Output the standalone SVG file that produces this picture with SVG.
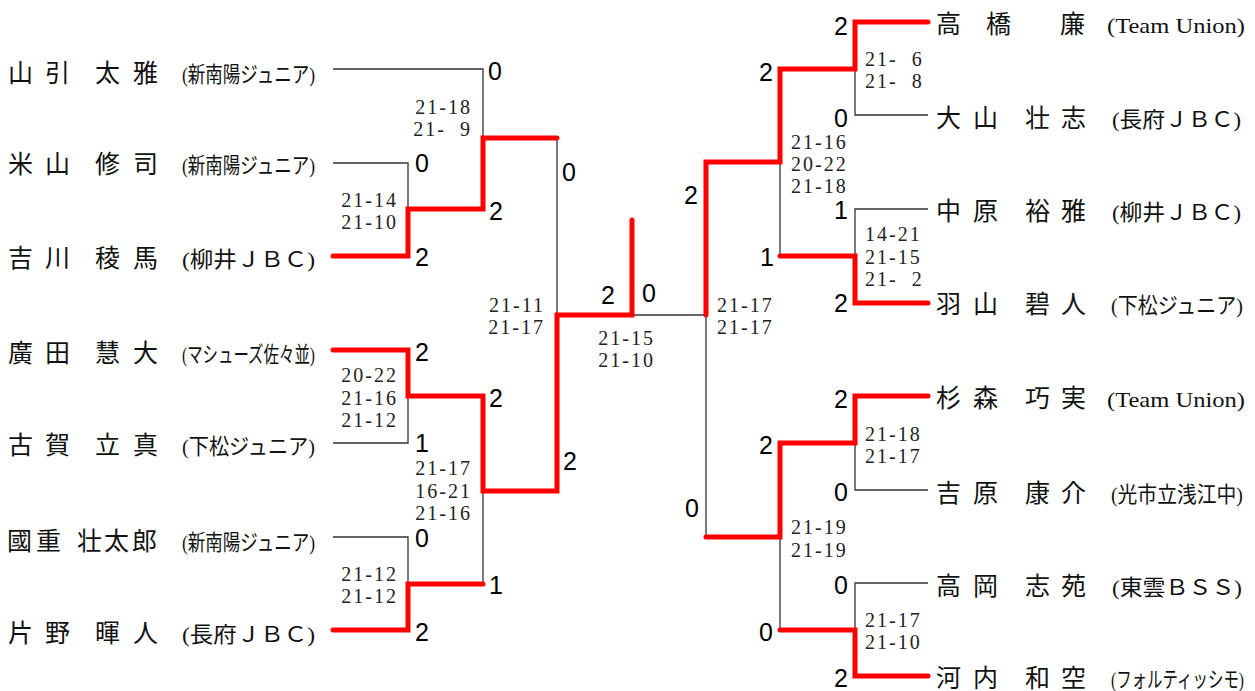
<svg xmlns="http://www.w3.org/2000/svg" width="1255" height="691" viewBox="0 0 1255 691">
<style>
.name{font-family:"Liberation Serif","Noto Sans CJK JP",serif;font-size:25px;fill:#111}
.team{font-family:"Liberation Serif","Noto Sans CJK JP",serif;font-size:22px;fill:#111}
.sc{font-family:"Liberation Sans",Arial,sans-serif;font-size:25px;fill:#000}
.gs{font-family:"Liberation Serif",serif;font-size:20px;fill:#222;letter-spacing:2px}
.thin{stroke:#333;stroke-width:1.3;fill:none}
.win{stroke:#ff0000;stroke-width:5;fill:none;stroke-linecap:round;stroke-linejoin:miter}
</style>
<rect width="1255" height="691" fill="#fff"/>
<g id="connectors">
  <path class="thin" d="M333,69 H483 V138"/>
  <path class="thin" d="M333,163 H408 V209"/>
  <path class="thin" d="M557,138 V315"/>
  <path class="thin" d="M333,443 H408 V396"/>
  <path class="thin" d="M333,537 H408 V584"/>
  <path class="thin" d="M483,491 V584"/>
  <path class="thin" d="M632,315 H706"/>
  <path class="thin" d="M928,115 H855 V69"/>
  <path class="thin" d="M928,209 H855 V256"/>
  <path class="thin" d="M780,162 V256"/>
  <path class="thin" d="M706,315 V537"/>
  <path class="thin" d="M928,490 H855 V443"/>
  <path class="thin" d="M928,583 H855 V630"/>
  <path class="thin" d="M780,537 V630"/>
  <path class="win" d="M333,256 H408 V209 H483 V138 H557"/>
  <path class="win" d="M333,350 H408 V396 H483 V491 H557 V315 H632 V220"/>
  <path class="win" d="M333,630 H408 V584 H483"/>
  <path class="win" d="M706,315 V162 H780 V69 H855 V22 H928"/>
  <path class="win" d="M928,303 H855 V256 H780"/>
  <path class="win" d="M706,537 H780 V443 H855 V396 H928"/>
  <path class="win" d="M928,676 H855 V630 H780"/>
</g>
<g id="p1"><text class="name" x="8 45 70 95 133" y="81.5">山引　太雅</text><text class="team" x="182" y="81.5" textLength="133" lengthAdjust="spacingAndGlyphs">(新南陽ジュニア)</text></g>
<g id="p2"><text class="name" x="8 45 70 95 133" y="172.5">米山　修司</text><text class="team" x="182" y="172.5" textLength="133" lengthAdjust="spacingAndGlyphs">(新南陽ジュニア)</text></g>
<g id="p3"><text class="name" x="8 45 70 95 133" y="266.5">吉川　稜馬</text><text class="team" x="182" y="266.5" textLength="133" lengthAdjust="spacingAndGlyphs">(柳井ＪＢＣ)</text></g>
<g id="p4"><text class="name" x="8 45 70 95 133" y="361.5">廣田　慧大</text><text class="team" x="182" y="361.5" textLength="133" lengthAdjust="spacingAndGlyphs">(マシューズ佐々並)</text></g>
<g id="p5"><text class="name" x="8 45 70 95 133" y="453.5">古賀　立真</text><text class="team" x="182" y="453.5" textLength="133" lengthAdjust="spacingAndGlyphs">(下松ジュニア)</text></g>
<g id="p6"><text class="name" x="7 36 60 77 104 132" y="549.5">國重　壮太郎</text><text class="team" x="182" y="549.5" textLength="133" lengthAdjust="spacingAndGlyphs">(新南陽ジュニア)</text></g>
<g id="p7"><text class="name" x="8 45 70 95 133" y="641.5">片野　暉人</text><text class="team" x="182" y="641.5" textLength="133" lengthAdjust="spacingAndGlyphs">(長府ＪＢＣ)</text></g>
<g id="p8"><text class="name" x="936 986 1010 1035 1060" y="32.5">高橋　　廉</text><text class="team" x="1107" y="32.5" textLength="138" lengthAdjust="spacingAndGlyphs">(Team Union)</text></g>
<g id="p9"><text class="name" x="936 973 1000 1025 1061" y="126.5">大山　壮志</text><text class="team" x="1112" y="126.5" textLength="129" lengthAdjust="spacingAndGlyphs">(長府ＪＢＣ)</text></g>
<g id="p10"><text class="name" x="936 973 1000 1025 1061" y="219.5">中原　裕雅</text><text class="team" x="1112" y="219.5" textLength="129" lengthAdjust="spacingAndGlyphs">(柳井ＪＢＣ)</text></g>
<g id="p11"><text class="name" x="936 973 1000 1025 1061" y="312.5">羽山　碧人</text><text class="team" x="1111" y="312.5" textLength="132" lengthAdjust="spacingAndGlyphs">(下松ジュニア)</text></g>
<g id="p12"><text class="name" x="936 973 1000 1025 1061" y="406.5">杉森　巧実</text><text class="team" x="1107" y="406.5" textLength="138" lengthAdjust="spacingAndGlyphs">(Team Union)</text></g>
<g id="p13"><text class="name" x="936 973 1000 1025 1061" y="501.5">吉原　康介</text><text class="team" transform="translate(1111,501.5) scale(0.9,1)" x="0" y="0">(光市立浅江中)</text></g>
<g id="p14"><text class="name" x="936 973 1000 1025 1061" y="594.5">高岡　志苑</text><text class="team" x="1112" y="594.5" textLength="130" lengthAdjust="spacingAndGlyphs">(東雲ＢＳＳ)</text></g>
<g id="p15"><text class="name" x="936 973 1000 1025 1061" y="686.5">河内　和空</text><text class="team" transform="translate(1111,686.5) scale(0.703,1)" x="0" y="0">(フォルティッシモ)</text></g>
<g id="m1"><text class="sc" x="415" y="172">0</text><text class="sc" x="415" y="266">2</text><text class="gs" text-anchor="end" xml:space="preserve"><tspan x="398" y="207">21-14</tspan><tspan x="398" y="229">21-10</tspan></text></g>
<g id="m2"><text class="sc" x="488" y="79.5">0</text><text class="sc" x="489" y="219.5">2</text><text class="gs" text-anchor="end" xml:space="preserve"><tspan x="472" y="113.5">21-18</tspan><tspan x="472" y="135.5">21-  9</tspan></text></g>
<g id="m3"><text class="sc" x="415" y="361">2</text><text class="sc" x="415" y="452">1</text><text class="gs" text-anchor="end" xml:space="preserve"><tspan x="398" y="382">20-22</tspan><tspan x="398" y="404.5">21-16</tspan><tspan x="398" y="427">21-12</tspan></text></g>
<g id="m4"><text class="sc" x="415" y="547">0</text><text class="sc" x="415" y="641">2</text><text class="gs" text-anchor="end" xml:space="preserve"><tspan x="398" y="581">21-12</tspan><tspan x="398" y="603">21-12</tspan></text></g>
<g id="m5"><text class="sc" x="489" y="407">2</text><text class="sc" x="489" y="594">1</text><text class="gs" text-anchor="end" xml:space="preserve"><tspan x="472" y="475">21-17</tspan><tspan x="472" y="497.5">16-21</tspan><tspan x="472" y="520">21-16</tspan></text></g>
<g id="m6"><text class="sc" x="562" y="181">0</text><text class="sc" x="563" y="470">2</text><text class="gs" text-anchor="end" xml:space="preserve"><tspan x="545" y="312">21-11</tspan><tspan x="545" y="334">21-17</tspan></text></g>
<g id="m7"><text class="sc" x="601" y="304">2</text><text class="sc" x="642" y="302">0</text><text class="gs" text-anchor="end" xml:space="preserve"><tspan x="655" y="345">21-15</tspan><tspan x="655" y="367">21-10</tspan></text></g>
<g id="m8"><text class="sc" text-anchor="end" x="848" y="34.5">2</text><text class="sc" text-anchor="end" x="848" y="127">0</text><text class="gs" xml:space="preserve"><tspan x="865" y="66">21-  6</tspan><tspan x="865" y="88">21-  8</tspan></text></g>
<g id="m9"><text class="sc" text-anchor="end" x="848" y="219">1</text><text class="sc" text-anchor="end" x="848" y="312">2</text><text class="gs" xml:space="preserve"><tspan x="865" y="241">14-21</tspan><tspan x="865" y="263.5">21-15</tspan><tspan x="865" y="286">21-  2</tspan></text></g>
<g id="m10"><text class="sc" text-anchor="end" x="773" y="81">2</text><text class="sc" text-anchor="end" x="774" y="266">1</text><text class="gs" xml:space="preserve"><tspan x="791" y="149">21-16</tspan><tspan x="791" y="171">20-22</tspan><tspan x="791" y="193">21-18</tspan></text></g>
<g id="m11"><text class="sc" text-anchor="end" x="848" y="408">2</text><text class="sc" text-anchor="end" x="848" y="501">0</text><text class="gs" xml:space="preserve"><tspan x="865" y="441">21-18</tspan><tspan x="865" y="463">21-17</tspan></text></g>
<g id="m12"><text class="sc" text-anchor="end" x="848" y="594">0</text><text class="sc" text-anchor="end" x="848" y="687">2</text><text class="gs" xml:space="preserve"><tspan x="865" y="627">21-17</tspan><tspan x="865" y="649">21-10</tspan></text></g>
<g id="m13"><text class="sc" text-anchor="end" x="773" y="454">2</text><text class="sc" text-anchor="end" x="773" y="641">0</text><text class="gs" xml:space="preserve"><tspan x="791" y="534">21-19</tspan><tspan x="791" y="557">21-19</tspan></text></g>
<g id="m14"><text class="sc" text-anchor="end" x="698" y="204">2</text><text class="sc" text-anchor="end" x="699" y="517">0</text><text class="gs" xml:space="preserve"><tspan x="717" y="312">21-17</tspan><tspan x="717" y="334">21-17</tspan></text></g>
</svg>
